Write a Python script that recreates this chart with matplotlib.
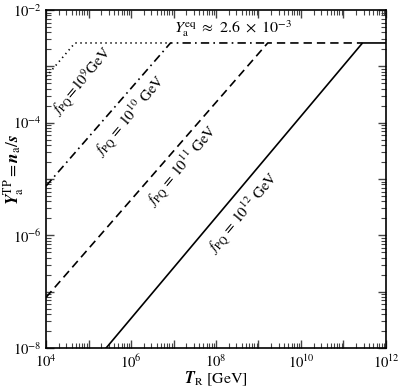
import matplotlib
matplotlib.use("Agg")
import matplotlib.pyplot as plt
from matplotlib.ticker import LogLocator, FuncFormatter, NullFormatter
import numpy as np

plt.rcParams['font.family'] = ['STIXGeneral', 'DejaVu Serif']
plt.rcParams['mathtext.fontset'] = 'stix'

# Data
Y_EQ = 2.6e-3
x_f9 = [1e4, 4.8e4, 8.5e6]
y_f9 = [6.5e-4, Y_EQ, Y_EQ]
x_f10 = [1e4, 8.5e6, 1.65e9]
y_f10 = [7.5e-6, Y_EQ, Y_EQ]
x_f11 = [1e4, 1.65e9, 2.8e11]
y_f11 = [7.9e-8, Y_EQ, Y_EQ]
x_f12 = [2.6e5, 2.8e11, 1e12]
y_f12 = [1e-8, Y_EQ, Y_EQ]

labels = [r"$f_{\rm PQ}\!=\!10^9$GeV", r"$f_{\rm PQ}\,=\,10^{10}$ GeV",
          r"$f_{\rm PQ}\,=\,10^{11}$ GeV", r"$f_{\rm PQ}\,=\,10^{12}$ GeV"]
label_x = [7.1e4, 1.0e6, 1.6e7, 4.4e8]
label_y = [5.2e-4, 1.3e-4, 1.7e-5, 2.5e-6]

fig = plt.figure(figsize=(3.99, 3.88), dpi=100)
ax = fig.add_axes([0.1153, 0.1031, 0.8521, 0.8711])

lw = 1.2
ax.plot(x_f9, y_f9, color='black', lw=lw, linestyle=(0, (0.8, 2.2)))
ax.plot(x_f10, y_f10, color='black', lw=lw, linestyle=(0, (5, 2.5, 1, 2.5)))
ax.plot(x_f11, y_f11, color='black', lw=lw, linestyle=(0, (5, 3)))
ax.plot(x_f12, y_f12, color='black', lw=lw, linestyle='-')

ax.set_xscale('log')
ax.set_yscale('log')
ax.set_xlim(1e4, 1e12)
ax.set_ylim(1e-8, 1e-2)

for lx, ly, lt in zip(label_x, label_y, labels):
    ax.text(lx, ly, lt, rotation=50, rotation_mode='anchor', ha='center', va='center', fontsize=11)

ax.text(1.05e7, 4.6e-3, r"$Y_{\rm a}^{\rm eq}\ \approx\ 2.6\ \times\ 10^{-3}$", ha='left', va='center', fontsize=11.5)

ax.xaxis.set_major_locator(LogLocator(base=10, numticks=20))
ax.yaxis.set_major_locator(LogLocator(base=10, numticks=20))
ax.xaxis.set_minor_locator(LogLocator(base=10, subs=np.arange(2, 10), numticks=100))
ax.yaxis.set_minor_locator(LogLocator(base=10, subs=np.arange(2, 10), numticks=100))

def fmt(v, pos):
    e = int(round(np.log10(v)))
    if e % 2 == 0:
        return r"$10^{%d}$" % e
    return ""

ax.xaxis.set_major_formatter(FuncFormatter(fmt))
ax.yaxis.set_major_formatter(FuncFormatter(fmt))
ax.xaxis.set_minor_formatter(NullFormatter())
ax.yaxis.set_minor_formatter(NullFormatter())

ax.tick_params(which='both', direction='in', top=True, right=True, labelsize=10.5, color='#444444')
ax.tick_params(which='major', length=6, width=1.0)
ax.tick_params(which='minor', length=3.5, width=0.8)
ax.tick_params(axis='x', pad=4)
ax.tick_params(axis='y', pad=3)
for s in ax.spines.values():
    s.set_linewidth(1.2)

ax.set_xlabel(r"$\mathbfit{T}_{\rm R}$ [GeV]", fontsize=11.5)
ax.xaxis.set_label_coords(0.5, -0.064)
ax.set_ylabel(r"$\mathbfit{Y}_{\rm a}^{\rm TP} = \mathbfit{n}_{\rm a}/\mathbfit{s}$", fontsize=12.5)
ax.yaxis.set_label_coords(-0.06, 0.53)

fig.savefig("out.png", dpi=100)
